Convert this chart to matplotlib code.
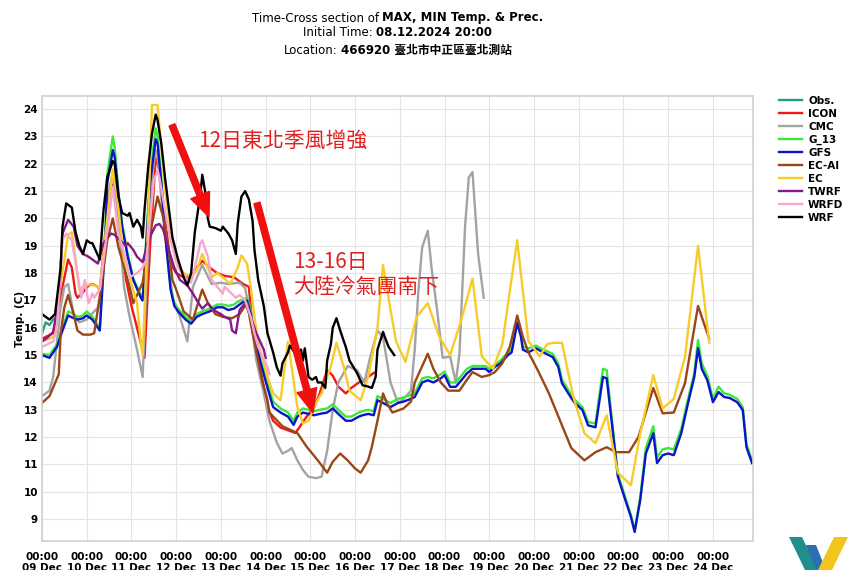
import numpy as np
import matplotlib
matplotlib.use("Agg")
import matplotlib.pyplot as plt
from matplotlib.patches import Polygon

plt.rcParams['font.family'] = ['DejaVu Sans', 'Noto Sans CJK TC']

# hours since 09 Dec 00:00 / temperature (C)
obs_h = [0, 2, 4, 6, 8]
obs_t = [15.8, 16.2, 16.1, 16.3, 16.4]

icon_h = [0, 6, 11, 14, 16, 18, 19, 22, 25, 27, 30, 31, 34, 37, 39, 42, 45, 48, 51, 55, 58, 61, 63, 66,
          69, 72, 76, 80, 83, 86, 90, 94, 98, 103, 108, 111, 113, 118, 121, 124, 128, 132, 136, 142,
          146, 149, 153, 156, 159, 163, 166, 170, 173, 178]
icon_t = [15.6, 15.8, 17.5, 18.5, 18.2, 17.25, 17.1, 17.3, 17.55, 17.6, 17.5, 17.35, 19.5, 21.3, 21.0,
          19.3, 17.8, 16.8, 16.0, 14.9, 19.0, 22.2, 21.8, 20.0, 18.35, 18.0, 17.85, 17.85, 18.2, 18.45,
          18.2, 18.0, 17.9, 17.85, 17.6, 17.5, 16.0, 14.2, 13.1, 12.6, 12.35, 12.25, 12.15, 12.75, 13.1,
          13.6, 14.45, 14.25, 13.85, 13.6, 13.8, 14.0, 14.1, 14.35]

cmc_h = [0, 4, 6, 10, 12, 14, 17, 20, 24, 28, 31, 34, 36, 38, 41, 44, 47, 51, 54, 56, 59, 61, 62, 65,
         68, 70, 74, 78, 81, 86, 91, 96, 100, 106, 109, 112, 115, 119, 122, 126, 129, 132, 134, 137,
         140, 143, 147, 150, 153, 156, 159, 164, 169, 173, 176, 179, 180, 183, 187, 191, 194, 198, 200,
         202, 204, 207, 209, 212, 215, 219, 222, 224, 227, 229, 231, 234, 237]
cmc_t = [13.5, 13.7, 14.2, 16.75, 17.5, 17.6, 16.5, 16.2, 16.3, 16.6, 16.8, 19.0, 21.0, 21.7, 20.0,
         17.5, 16.4, 15.2, 14.2, 17.5, 21.5, 22.5, 22.3, 20.0, 18.3, 17.1, 16.4, 15.5, 17.5, 18.3, 17.6,
         17.65, 17.6, 17.65, 17.45, 16.4, 14.8, 13.6, 12.6, 11.8, 11.4, 11.5, 11.6, 11.15, 10.8, 10.55,
         10.5, 10.55, 11.5, 13.0, 14.0, 14.6, 14.45, 14.0, 14.9, 15.65, 15.9, 15.65, 14.0, 13.25, 13.4,
         13.7, 15.2, 17.4, 18.95, 19.55, 18.2, 16.65, 14.9, 14.95, 14.0, 15.05, 19.7, 21.5, 21.7, 18.7,
         17.1]

g13_h = [0, 4, 8, 11, 14, 17, 19, 22, 24, 27, 30, 31, 32, 34, 35, 38, 39, 41, 43, 46, 49, 53, 54, 58,
         61, 62, 64, 66, 69, 71, 73, 77, 80, 83, 86, 90, 94, 97, 100, 103, 105, 108, 110, 112, 113, 117,
         121, 124, 128, 132, 135, 137, 140, 143, 146, 149, 153, 156, 159, 163, 166, 170, 172, 175, 178,
         180, 183, 187, 191, 194, 198, 200, 204, 207, 210, 214, 216, 219, 222, 225, 228, 231, 235, 238,
         240, 243, 246, 250, 252, 255, 257, 258, 261, 265, 269, 274, 277, 279, 284, 286, 290, 293, 297,
         301, 303, 306, 309, 313, 316, 318, 321, 324, 328, 330, 333, 336, 339, 343, 347, 350, 352, 354,
         357, 360, 363, 366, 369, 373, 376, 378, 381]
g13_t = [15.05, 15.0, 15.4, 16.0, 16.6, 16.5, 16.4, 16.45, 16.6, 16.4, 16.1, 16.0, 17.3, 19.6, 21.6,
         23.0, 22.6, 21.0, 19.8, 18.7, 17.8, 17.2, 17.1, 21.6, 23.3, 23.0, 21.5, 19.6, 17.5, 16.9, 16.7,
         16.4, 16.25, 16.5, 16.6, 16.7, 16.85, 16.85, 16.8, 16.85, 16.95, 17.05, 17.1, 16.65, 16.15, 15.0,
         13.95, 13.3, 13.05, 12.9, 12.6, 12.9, 13.05, 13.0, 12.95, 13.0, 13.05, 13.2, 13.0, 12.75, 12.75,
         12.9, 12.95, 13.0, 12.95, 13.5, 13.4, 13.25, 13.4, 13.45, 13.55, 13.6, 14.15, 14.2, 14.15, 14.3,
         14.4, 14.0, 14.0, 14.25, 14.5, 14.6, 14.6, 14.6, 14.5, 14.65, 14.8, 15.1, 15.2, 16.3, 15.8, 15.3,
         15.25, 15.35, 15.2, 15.05, 14.7, 14.1, 13.55, 13.35, 13.1, 12.55, 12.5, 14.5, 14.45, 12.5, 10.65,
         9.8, 9.15, 8.6, 9.8, 11.6, 12.4, 11.25, 11.55, 11.6, 11.55, 12.3, 13.5, 14.35, 15.55, 14.7, 14.25,
         13.4, 13.85, 13.6, 13.55, 13.4, 13.1, 11.75, 11.15]

gfs_h = [0, 4, 8, 11, 14, 17, 19, 22, 24, 27, 30, 31, 32, 34, 35, 38, 39, 41, 43, 46, 49, 53, 54, 58,
         61, 62, 64, 66, 69, 71, 73, 77, 80, 83, 86, 90, 94, 97, 100, 103, 105, 108, 110, 112, 113, 117,
         121, 124, 128, 132, 135, 137, 140, 143, 146, 149, 153, 156, 159, 163, 166, 170, 172, 175, 178,
         180, 183, 187, 191, 194, 198, 200, 204, 207, 210, 214, 216, 219, 222, 225, 228, 231, 235, 238,
         240, 243, 246, 250, 252, 255, 257, 258, 261, 265, 269, 274, 277, 279, 284, 286, 290, 293, 297,
         301, 303, 306, 309, 313, 316, 318, 321, 324, 328, 330, 333, 336, 339, 343, 347, 350, 352, 354,
         357, 360, 363, 366, 369, 373, 376, 378, 381]
gfs_t = [15.0, 14.9, 15.3, 15.9, 16.45, 16.35, 16.3, 16.35, 16.45, 16.3, 16.0, 15.9, 17.0, 19.2, 21.3,
         22.5, 22.25, 20.9, 19.7, 18.6, 17.75, 17.1, 17.0, 21.3, 22.9, 22.75, 21.3, 19.45, 17.4, 16.8,
         16.6, 16.3, 16.15, 16.4, 16.5, 16.6, 16.75, 16.75, 16.65, 16.7, 16.8, 16.95, 17.0, 16.5, 16.0,
         14.8, 13.8, 13.1, 12.9, 12.75, 12.45, 12.75, 12.9, 12.85, 12.8, 12.85, 12.9, 13.05, 12.85, 12.6,
         12.6, 12.75, 12.8, 12.85, 12.8, 13.35, 13.25, 13.1, 13.25, 13.3, 13.4, 13.47, 14.0, 14.08, 14.0,
         14.15, 14.27, 13.84, 13.84, 14.08, 14.33, 14.5, 14.5, 14.5, 14.38, 14.57, 14.7, 15.0, 15.1, 16.17,
         15.67, 15.2, 15.1, 15.25, 15.1, 14.93, 14.57, 13.97, 13.43, 13.24, 12.99, 12.43, 12.36, 14.2,
         14.15, 12.37, 10.55, 9.7, 9.08, 8.53, 9.7, 11.4, 12.14, 11.05, 11.34, 11.4, 11.34, 12.14, 13.35,
         14.2, 15.25, 14.5, 14.08, 13.28, 13.65, 13.47, 13.43, 13.28, 12.99, 11.63, 11.05]

ecai_h = [0, 4, 9, 10, 12, 14, 17, 19, 22, 26, 28, 32, 35, 38, 41, 45, 47, 49, 54, 58, 62, 65, 68, 70,
          72, 76, 81, 83, 86, 89, 93, 97, 102, 106, 110, 113, 118, 121, 122, 129, 137, 142, 148, 153,
          156, 160, 164, 168, 171, 175, 177, 180, 183, 185, 188, 194, 198, 200, 204, 207, 210, 214, 218,
          224, 228, 231, 236, 240, 243, 247, 251, 255, 258, 261, 266, 272, 278, 284, 291, 297, 303, 308,
          315, 320, 328, 333, 339, 345, 352, 358]
ecai_t = [13.25, 13.5, 14.3, 15.8, 16.75, 17.2, 16.5, 15.9, 15.75, 15.75, 15.8, 17.6, 19.2, 20.0, 18.95,
          18.0, 17.5, 16.9, 17.65, 19.45, 20.8, 20.05, 18.85, 17.75, 17.4, 16.6, 16.3, 16.75, 17.4, 16.9,
          16.5, 16.4, 16.35, 16.5, 16.9, 15.8, 14.1, 13.35, 12.9, 12.4, 12.15, 11.65, 11.15, 10.7, 11.1,
          11.4, 11.15, 10.85, 10.7, 11.15, 11.65, 12.6, 13.6, 13.25, 12.9, 13.05, 13.3, 14.0, 14.6, 15.05,
          14.5, 14.0, 13.7, 13.7, 14.1, 14.38, 14.2, 14.27, 14.38, 14.7, 15.3, 16.45, 15.67, 15.1, 14.45,
          13.6, 12.6, 11.6, 11.15, 11.45, 11.63, 11.45, 11.45, 12.0, 13.8, 12.87, 12.9, 13.97, 16.8, 15.6]

ec_h = [0, 4, 7, 10, 14, 16, 18, 20, 22, 26, 30, 31, 35, 38, 40, 44, 47, 51, 53, 54, 57, 59, 62, 66,
        70, 72, 76, 80, 83, 86, 88, 91, 94, 97, 101, 105, 107, 110, 112, 114, 116, 121, 124, 128, 130,
        132, 134, 137, 140, 143, 147, 150, 155, 158, 162, 165, 171, 175, 180, 183, 187, 190, 195, 201,
        207, 213, 219, 225, 231, 236, 242, 247, 251, 255, 258, 261, 264, 267, 271, 274, 279, 285, 291,
        297, 303, 309, 316, 321, 328, 333, 339, 345, 352, 358]
ec_t = [15.5, 15.6, 15.7, 17.6, 19.4, 19.5, 18.5, 17.4, 17.5, 17.6, 17.5, 17.4, 20.0, 21.8, 21.0, 18.5,
        17.85, 16.9, 15.45, 15.0, 20.0, 24.15, 24.15, 21.05, 19.1, 18.4, 18.0, 17.85, 18.1, 18.7, 18.35,
        17.85, 18.0, 17.85, 17.6, 18.2, 18.65, 18.35, 17.5, 16.4, 15.45, 14.2, 13.6, 13.35, 14.45, 15.5,
        14.55, 13.1, 12.5, 12.6, 13.25, 13.6, 14.6, 15.45, 14.55, 13.7, 13.35, 14.2, 16.0, 18.3, 16.65,
        15.5, 14.75, 16.4, 16.9, 15.7, 15.0, 16.3, 17.8, 14.95, 14.5, 15.4, 17.35, 19.2, 17.35, 15.5,
        15.25, 14.95, 15.4, 15.45, 15.45, 13.5, 12.14, 11.78, 12.8, 10.7, 10.24, 12.14, 14.27, 13.05,
        13.4, 14.93, 19.0, 15.45]

twrf_h = [0, 3, 6, 9, 11, 14, 17, 19, 22, 25, 27, 30, 33, 37, 39, 42, 45, 46, 49, 51, 54, 57, 61, 63,
          65, 68, 71, 74, 78, 81, 84, 86, 89, 92, 96, 98, 101, 102, 104, 106, 109, 112, 115, 119, 120]
twrf_t = [15.5, 15.65, 15.85, 17.0, 19.45, 19.95, 19.7, 19.0, 18.7, 18.6, 18.5, 18.35, 19.1, 19.45, 19.4,
          19.2, 19.0, 19.1, 18.85, 18.6, 18.4, 19.2, 19.75, 19.8, 19.6, 18.85, 18.2, 17.75, 17.55, 17.25,
          16.9, 16.7, 16.9, 16.65, 16.5, 16.4, 16.3, 15.9, 15.8, 16.65, 16.9, 16.4, 15.8, 15.2, 14.9]

wrfd_h = [0, 3, 6, 8, 10, 11, 13, 16, 19, 21, 23, 25, 27, 28, 31, 34, 38, 41, 45, 47, 51, 54, 56, 60,
          62, 63, 66, 69, 73, 77, 80, 82, 85, 86, 89, 91, 94, 97, 98, 101, 104, 106, 109, 112, 114, 116,
          121, 122]
wrfd_t = [15.3, 15.4, 15.5, 16.0, 18.2, 19.2, 19.45, 19.2, 18.0, 17.1, 17.75, 16.9, 17.25, 17.1, 17.4,
          19.0, 21.15, 19.45, 18.5, 17.85, 18.0, 18.2, 18.5, 21.4, 21.75, 21.5, 20.3, 19.2, 18.2, 17.85,
          17.65, 18.2, 19.1, 19.2, 18.6, 17.75, 17.5, 17.25, 17.5, 17.3, 17.1, 17.2, 17.0, 16.4, 15.8,
          15.3, 14.55, 14.3]

wrf_h = [0, 4, 7, 10, 11, 13, 16, 18, 20, 22, 24, 26, 27, 29, 31, 33, 35, 38, 39, 41, 43, 46, 47, 49,
         51, 53, 54, 55, 57, 59, 61, 62, 64, 66, 68, 70, 73, 76, 78, 80, 82, 85, 86, 88, 89, 90, 93, 96,
         97, 100, 102, 104, 105, 107, 109, 111, 113, 114, 116, 119, 121, 124, 126, 128, 129, 132, 133,
         136, 139, 140, 141, 143, 145, 147, 148, 150, 152, 153, 155, 156, 158, 160, 163, 165, 169, 172,
         175, 177, 179, 180, 183, 184, 186, 189]
wrf_t = [16.5, 16.3, 16.5, 18.2, 19.7, 20.55, 20.4, 19.5, 19.0, 18.7, 19.2, 19.1, 19.1, 18.8, 18.5, 20.3,
         21.5, 22.1, 22.0, 20.8, 20.2, 20.1, 20.2, 19.7, 19.95, 19.7, 19.3, 20.3, 21.9, 23.1, 23.8, 23.6,
         22.75, 21.5, 20.4, 19.3, 18.5, 17.85, 17.55, 18.0, 19.5, 20.9, 21.6, 20.8, 20.0, 19.7, 19.65,
         19.55, 19.7, 19.45, 19.2, 18.7, 19.8, 20.8, 21.0, 20.7, 19.9, 18.85, 17.75, 16.8, 15.8, 15.1,
         14.55, 14.25, 14.7, 15.1, 15.35, 15.05, 15.2, 14.8, 15.25, 14.2, 14.1, 14.2, 14.0, 14.0, 13.8,
         14.8, 15.4, 16.0, 16.35, 15.9, 15.3, 14.8, 14.35, 13.9, 13.85, 13.8, 14.2, 15.2, 15.85, 15.65,
         15.3, 15.0]

days = list(range(9, 25))
tick_labels = ['00:00\n%02d Dec' % d for d in days]

series = [
    ('Obs.', obs_h, obs_t, '#1fa085'),
    ('ICON', icon_h, icon_t, '#f01818'),
    ('CMC', cmc_h, cmc_t, '#a3a3a3'),
    ('G_13', g13_h, g13_t, '#3ae83a'),
    ('GFS', gfs_h, gfs_t, '#0a14c8'),
    ('EC-AI', ecai_h, ecai_t, '#9a4616'),
    ('EC', ec_h, ec_t, '#f7cb2a'),
    ('TWRF', twrf_h, twrf_t, '#861a86'),
    ('WRFD', wrfd_h, wrfd_t, '#f7a6cf'),
    ('WRF', wrf_h, wrf_t, '#000000'),
]

W, H = 866, 570
fig = plt.figure(figsize=(W / 100, H / 100), dpi=100)
ax = fig.add_axes([42 / W, 1 - 541 / H, (753 - 42) / W, (541 - 96) / H])

handles = []
for name, hh, tt, col in series:
    ln, = ax.plot(hh, tt, color=col, lw=1.7, label=name)
    handles.append(ln)

ax.set_xlim(0, 381.5)
ax.set_ylim(8.2, 24.48)
ax.set_xticks([24 * i for i in range(len(days))])
ax.set_xticklabels(tick_labels, fontsize=7.5, fontweight='bold', linespacing=1.1)
ax.set_yticks(range(9, 25))
ax.set_yticklabels([str(v) for v in range(9, 25)], fontsize=7.5, fontweight='bold')
ax.tick_params(axis='both', length=0)
ax.tick_params(axis='x', pad=8)
ax.tick_params(axis='y', pad=3)
ax.grid(True, color='#e4e4e4', lw=0.8)
ax.set_axisbelow(True)
for sp in ax.spines.values():
    sp.set_color('#d0d0d0')
    sp.set_linewidth(1.2)
ax.set_ylabel('Temp. (C)', fontsize=7.5, fontweight='bold')
ax.yaxis.set_label_coords(-0.024, 0.5)

fig.legend(handles=handles, loc='upper left', bbox_to_anchor=(779 / W, 1 - 96 / H),
           frameon=False, prop={'weight': 'bold', 'size': 7.5}, handlelength=2.2,
           handletextpad=0.6, labelspacing=0.28, borderaxespad=0, borderpad=0)

# title: mixed normal / bold lines, centred over the axes
renderer = fig.canvas.get_renderer()
cx = (42 + 753) / 2
for ypix, normal, bold in [(18, 'Time-Cross section of', 'MAX, MIN Temp. & Prec.'),
                           (33, 'Initial Time:', '08.12.2024 20:00'),
                           (50, 'Location:', '466920 臺北市中正區臺北測站')]:
    t1 = fig.text(0, 1 - ypix / H, normal, fontsize=8.5, va='center', ha='left')
    t2 = fig.text(0, 1 - ypix / H, bold, fontsize=8.5, va='center', ha='left', fontweight='bold')
    w1 = t1.get_window_extent(renderer).width
    w2 = t2.get_window_extent(renderer).width
    gap = 3.5
    x0 = cx - (w1 + gap + w2) / 2
    t1.set_x(x0 / W)
    t2.set_x((x0 + w1 + gap) / W)

# red annotations
red_txt = '#e0211f'
cjk = ['Noto Sans CJK TC', 'DejaVu Sans']
fig.text(198 / W, 1 - 141 / H, '12日東北季風增強', color=red_txt, fontsize=15, family=cjk,
         va='center', ha='left')
fig.text(293 / W, 1 - 262 / H, '13-16日', color=red_txt, fontsize=15, family=cjk,
         va='center', ha='left')
fig.text(293 / W, 1 - 287 / H, '大陸冷氣團南下', color=red_txt, fontsize=15, family=cjk,
         va='center', ha='left')
for (x1, y1), (x2, y2) in [((172, 125), (209, 217)), ((257, 203), (313, 413))]:
    ax.annotate('', xy=(x2, H - y2), xycoords='figure pixels',
                xytext=(x1, H - y1), textcoords='figure pixels',
                arrowprops=dict(arrowstyle='simple,head_length=1.7,head_width=1.45,tail_width=0.45',
                                color='#f20f0f', shrinkA=0, shrinkB=0, mutation_scale=10))

# logo (bottom right)
def poly(pts, col):
    fig.patches.append(Polygon([(x / W, 1 - y / H) for x, y in pts], closed=True,
                               transform=fig.transFigure, facecolor=col, edgecolor='none'))

poly([(789, 537), (802, 537), (818, 570), (805, 570)], '#1f8f8a')
poly([(806, 545), (816, 545), (826, 570), (816, 570)], '#2a6fb0')
poly([(834, 537), (848, 537), (832, 570), (818, 570)], '#f2c41c')

fig.savefig('out.png', dpi=100)
